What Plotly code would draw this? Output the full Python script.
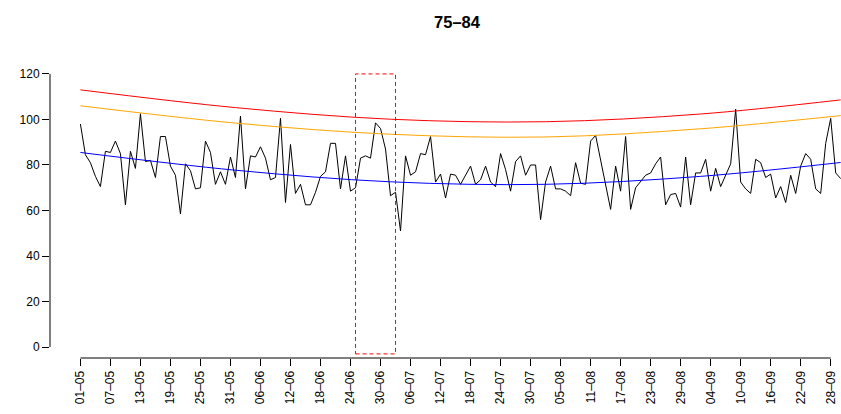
import plotly.graph_objects as go

fnt = "Liberation Sans, Arial, sans-serif"

# daily counts, 01-05 .. 30-09
daily = [
    98, 84.5, 81, 75, 70.5, 86, 85.5, 90.5, 85, 62.5,
    86, 78.5, 102.5, 81.5, 82, 74.5, 92.5, 92.5, 79.5, 75.5,
    58.5, 80.5, 77.5, 69.5, 70, 90.5, 85.5, 71.5, 77, 71.5,
    83.5, 74.5, 101.5, 69.5, 84, 83.5, 88, 83, 73.5, 74.5,
    100.5, 63.5, 89, 67.5, 71.5, 62.5, 62.5, 68, 75, 77,
    89.5, 89.5, 69.5, 84, 68.5, 70, 83, 84, 83, 98.5,
    96, 87, 66.5, 68, 51, 84, 75.5, 77, 85, 84.5,
    92.5, 72.5, 76, 65.5, 76, 75.5, 71.5, 75.5, 79.5, 71.5,
    73.5, 79.5, 72.5, 70.5, 85, 78, 68.5, 81.5, 84, 75.5,
    80, 80, 56, 72.5, 79.5, 69.5, 69.5, 68.5, 66.5, 81,
    72, 71.5, 90.5, 93, 82, 71.5, 60.5, 79.5, 68.5, 92.5,
    60.5, 70, 73, 75.5, 76.5, 80.5, 83.5, 62.5, 67, 67.5,
    61.5, 83.5, 62.5, 76.5, 76.5, 82.5, 68.5, 78.5, 70.5, 75.5,
    80.5, 104.5, 72.5, 69.5, 67.5, 82.5, 81, 74.5, 76, 65.5,
    70.5, 63.5, 75.5, 67.5, 79.5, 85, 82.5, 69.5, 67.5, 89.5,
    100.5, 76.5, 74,
]
days = list(range(len(daily)))

# fitted curves, read at a few days
curve_days = [0, 31, 62, 93, 124, 152]
curve_blue = [85.5, 77.7, 72.6, 71.5, 75.0, 81.1]
curve_orange = [106.0, 98.4, 93.5, 92.3, 95.9, 101.7]
curve_red = [113.0, 105.2, 100.1, 99.0, 102.4, 108.6]

tick_days = [0, 6, 12, 18, 24, 30, 36, 42, 48, 54, 60, 66, 72,
             78, 84, 90, 96, 102, 108, 114, 120, 126, 132, 138, 144, 150]
tick_labels = ["01–05", "07–05", "13–05", "19–05", "25–05", "31–05", "06–06",
               "12–06", "18–06", "24–06", "30–06", "06–07", "12–07", "18–07",
               "24–07", "30–07", "05–08", "11–08", "17–08", "23–08", "29–08",
               "04–09", "10–09", "16–09", "22–09", "28–09"]

box_days = [55, 63]
box_vals = [-3, 120]

fig = go.Figure()
fig.add_trace(go.Scatter(x=days, y=daily, mode="lines",
                         line=dict(color="black", width=1)))
for vals, col in [(curve_red, "red"), (curve_orange, "orange"), (curve_blue, "blue")]:
    fig.add_trace(go.Scatter(x=curve_days, y=vals, mode="lines",
                             line=dict(color=col, width=1, shape="spline")))

fig.add_shape(type="rect", x0=box_days[0], x1=box_days[1], y0=box_vals[0], y1=box_vals[1],
              xref="x", yref="y", line=dict(color="red", width=1, dash="4px,3px"))
# R style axis lines, first to last tick
fig.add_shape(type="line", xref="paper", x0=0, x1=0, yref="y", y0=0, y1=120,
              line=dict(color="black", width=1))
fig.add_shape(type="line", xref="x", x0=tick_days[0], x1=tick_days[-1], yref="paper", y0=0, y1=0,
              line=dict(color="black", width=1))

W, H = 841, 414
fig.update_layout(
    width=W, height=H,
    margin=dict(l=50, r=0, t=63, b=56),
    plot_bgcolor="white", paper_bgcolor="white",
    showlegend=False,
    font=dict(family=fnt, size=12, color="black"),
    title=dict(text="<b>75–84</b>", x=(457 / W), xanchor="center", y=1 - 22 / H, yanchor="middle",
               font=dict(size=16.5, family=fnt)),
    xaxis=dict(range=[-6.08, 152.06], showgrid=False, zeroline=False, showline=False,
               automargin=False,
               tickmode="array", tickvals=tick_days, ticktext=tick_labels, tickangle=-90,
               ticks="outside", ticklen=7, tickcolor="black", tickwidth=1),
    yaxis=dict(range=[-4.8, 124.8], showgrid=False, zeroline=False, showline=False,
               automargin=False,
               tickmode="array", tickvals=[0, 20, 40, 60, 80, 100, 120],
               ticks="outside", ticklen=7, tickcolor="black", tickwidth=1),
)

# drop the default page margin so the figure fills the window
fig.write_html("out.html", config={"displayModeBar": False},
               post_script="document.body.style.margin='0';document.body.style.overflow='hidden';")
